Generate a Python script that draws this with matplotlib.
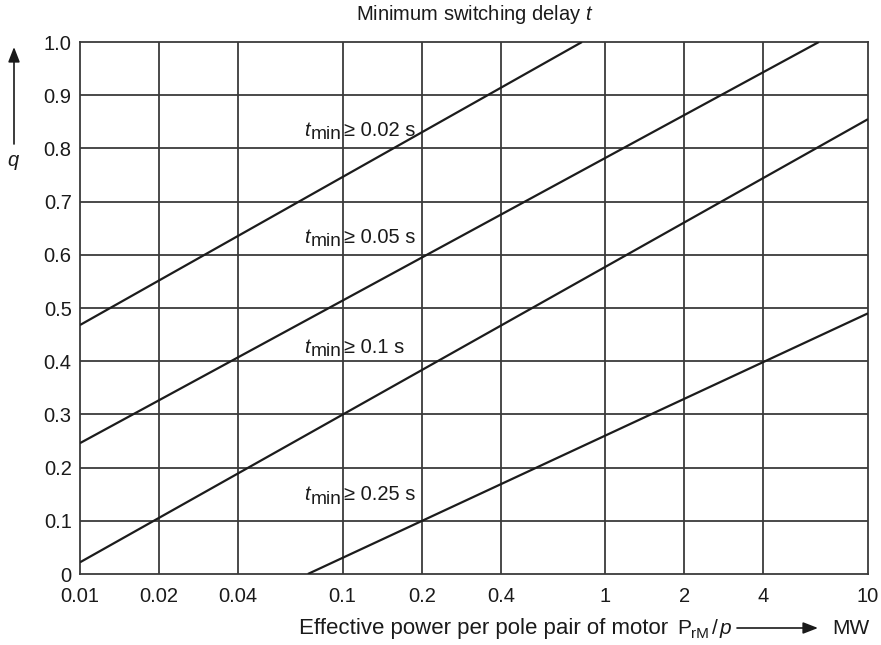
import matplotlib
matplotlib.use("Agg")
import matplotlib.pyplot as plt
import numpy as np

plt.rcParams['font.family'] = ['Liberation Sans', 'DejaVu Sans']
plt.rcParams['mathtext.fontset'] = 'custom'
plt.rcParams['mathtext.rm'] = 'Liberation Sans'
plt.rcParams['mathtext.it'] = 'Liberation Sans:italic'
plt.rcParams['mathtext.default'] = 'regular'

# Axis ticks
x_ticks = [0.01, 0.02, 0.04, 0.1, 0.2, 0.4, 1, 2, 4, 10]
x_tick_labels = ["0.01", "0.02", "0.04", "0.1", "0.2", "0.4", "1", "2", "4", "10"]
y_ticks = [0, 0.1, 0.2, 0.3, 0.4, 0.5, 0.6, 0.7, 0.8, 0.9, 1.0]
y_tick_labels = ["0", "0.1", "0.2", "0.3", "0.4", "0.5", "0.6", "0.7", "0.8", "0.9", "1.0"]

# Curves q(P) for each minimum switching delay (straight on log-x): start / end points
delays = ["0.02", "0.05", "0.1", "0.25"]
p_start = [0.01, 0.01, 0.01, 0.0737]
q_start = [0.468, 0.246, 0.022, 0.0]
p_end = [0.815, 6.5, 10.0, 10.0]
q_end = [1.0, 1.0, 0.855, 0.49]

W, H = 881, 645
FS = 14.5
TXT = '#1a1a1a'
PX = 0.72  # points per pixel at 100 dpi
fig = plt.figure(figsize=(W / 100, H / 100), dpi=100)
ax = fig.add_axes([80 / W, 1 - 574 / H, (868 - 80) / W, (574 - 42) / H])
ax.set_xscale('log')
ax.set_xlim(0.01, 10)
ax.set_ylim(0, 1.0)

line_col = '#1c1c1c'
grid_col = '#3a3a3a'

for v in x_ticks[1:-1]:
    ax.axvline(v, color=grid_col, lw=1.3, zorder=1)
for v in y_ticks[1:-1]:
    ax.axhline(v, color=grid_col, lw=1.3, zorder=1)

for p0, q0, p1, q1 in zip(p_start, q_start, p_end, q_end):
    ax.plot([p0, p1], [q0, q1], color=line_col, lw=1.6, zorder=3,
            solid_capstyle='butt')

for s in ax.spines.values():
    s.set_color(grid_col)
    s.set_linewidth(1.3)

ax.set_xticks(x_ticks)
ax.set_xticklabels(x_tick_labels)
ax.xaxis.set_minor_locator(matplotlib.ticker.NullLocator())
ax.set_yticks(y_ticks)
ax.set_yticklabels(y_tick_labels)
ax.tick_params(axis='x', length=0, pad=9, labelsize=FS, colors=TXT)
ax.tick_params(axis='y', length=0, pad=6, labelsize=FS, colors=TXT)

# Curve labels "t_min >= ..." placed beside the 0.1 MW gridline
renderer = fig.canvas.get_renderer()
label_q = [0.824, 0.6223, 0.4161, 0.1387]
for d, qy in zip(delays, label_q):
    ax.annotate("\u2265 " + d + " s", xy=(0.1, qy), xytext=(1.5 * PX, 0),
                textcoords='offset points', ha='left', va='baseline',
                fontsize=FS, color=TXT, zorder=4)
    sub = ax.annotate("min", xy=(0.1, qy), xytext=(-1.5 * PX, -3.5 * PX),
                      textcoords='offset points', ha='right', va='baseline',
                      fontsize=FS * 0.95, color=TXT, zorder=4)
    w_sub = sub.get_window_extent(renderer).width
    ax.annotate("t", xy=(0.1, qy), xytext=(-(2.5 + w_sub) * PX, 0),
                textcoords='offset points', ha='right', va='baseline',
                fontsize=FS, style='italic', color=TXT, zorder=4)

# Title
fig.text(475 / W, 1 - 14 / H, r"Minimum switching delay $\mathit{t}$",
         ha='center', va='center', fontsize=FS, color=TXT)

# Y-axis label with arrow
fig.text(14 / W, 1 - 163 / H, r"$\mathit{q}$", ha='center', va='center',
         fontsize=FS, color=TXT)
fig.add_artist(matplotlib.patches.FancyArrowPatch(
    (14 / W, 1 - 144 / H), (14 / W, 1 - 47 / H), transform=fig.transFigure,
    arrowstyle='-|>,head_length=0.9,head_width=0.35', mutation_scale=10,
    color=TXT, lw=1.2, shrinkA=0, shrinkB=0))

# X-axis label: text pieces laid out left to right on one baseline, then arrow and unit
XFS = 16
base = 1 - 634 / H
fig.text(668 / W, base, "Effective power per pole pair of motor",
         ha='right', va='baseline', fontsize=XFS, color=TXT)
pieces = [("P", 15, 'normal', 0), ("rM", 11, 'normal', -3.5),
          ("/", 15, 'normal', 0), ("p", 15, 'italic', 0)]
gaps = [0, 0, 3, 2]
x_px = 677
for (s, fs, st, dy), g in zip(pieces, gaps):
    x_px += g
    t = fig.text(x_px / W, base + dy / H, s, ha='left', va='baseline',
                 fontsize=fs, style=st, color=TXT)
    x_px += t.get_window_extent(renderer).width
fig.add_artist(matplotlib.patches.FancyArrowPatch(
    (737 / W, 1 - 628 / H), (818 / W, 1 - 628 / H), transform=fig.transFigure,
    arrowstyle='-|>,head_length=0.9,head_width=0.35', mutation_scale=10,
    color=TXT, lw=1.2, shrinkA=0, shrinkB=0))
fig.text(832 / W, base, "MW", ha='left', va='baseline',
         fontsize=15, color=TXT)

fig.savefig("out.png", dpi=100)
